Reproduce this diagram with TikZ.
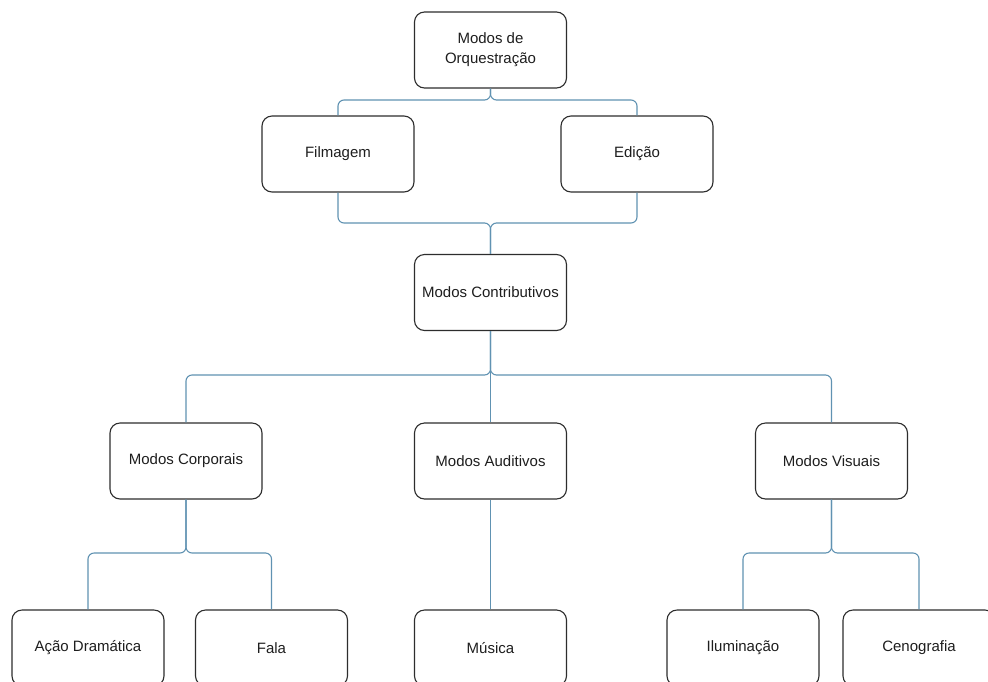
\documentclass[tikz,border=0pt]{standalone}
\usepackage{fontspec}
\setmainfont{Liberation Sans}
\definecolor{conncol}{RGB}{96,146,178}
\definecolor{boxcol}{RGB}{45,45,45}
\definecolor{txtcol}{RGB}{30,30,30}
\begin{document}
\begin{tikzpicture}[x=1pt,y=-1pt,
  mbox/.style={draw=boxcol, line width=1.1pt, rounded corners=10pt, fill=white,
    minimum width=152pt, minimum height=76pt, align=center, inner sep=2pt,
    text=txtcol, font=\fontsize{15}{20}\selectfont},
  conn/.style={draw=conncol, line width=1.1pt, rounded corners=6pt}]
\clip (0,0) rectangle (988,681);
\fill[white] (0,0) rectangle (988,681);
% nodes
\node[mbox] (top) at (490.5,50) {Modos de\\Orquestração};
\node[mbox] (film) at (338,154) {Filmagem};
\node[mbox] (edi) at (637,154) {Edição};
\node[mbox] (contrib) at (490.5,292.5) {Modos Contributivos};
\node[mbox] (corp) at (186,461) {Modos Corporais};
\node[mbox] (aud) at (490.5,461) {Modos Auditivos};
\node[mbox] (vis) at (831.5,461) {Modos Visuais};
\node[mbox] (acao) at (88,648) {Ação Dramática};
\node[mbox] (fala) at (271.5,648) {Fala};
\node[mbox] (musica) at (490.5,648) {Música};
\node[mbox] (ilum) at (743,648) {Iluminação};
\node[mbox] (ceno) at (919,648) {Cenografia};
% junctions
\coordinate (j0) at (490.5,100);
\coordinate (j1) at (490.5,223);
\coordinate (j2) at (490.5,375);
\coordinate (j3) at (186,553);
\coordinate (j4) at (831.5,553);
% connectors
\draw[conn] (top.south) -- (j0) -| (film.north);
\draw[conn] (top.south) -- (j0) -| (edi.north);
\draw[conn] (film.south) |- (j1) -- (contrib.north);
\draw[conn] (edi.south) |- (j1) -- (contrib.north);
\draw[conn] (contrib.south) -- (j2) -| (corp.north);
\draw[conn] (contrib.south) -- (j2) -| (vis.north);
\draw[conn] (contrib.south) -- (aud.north);
\draw[conn] (corp.south) -- (j3) -| (acao.north);
\draw[conn] (corp.south) -- (j3) -| (fala.north);
\draw[conn] (aud.south) -- (musica.north);
\draw[conn] (vis.south) -- (j4) -| (ilum.north);
\draw[conn] (vis.south) -- (j4) -| (ceno.north);
\end{tikzpicture}
\end{document}
